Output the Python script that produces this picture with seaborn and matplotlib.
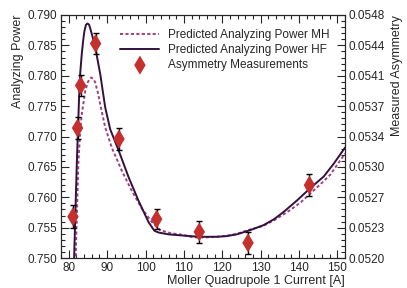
import numpy as np
import matplotlib
matplotlib.use("Agg")
import matplotlib.pyplot as plt
import seaborn as sns
from matplotlib.ticker import MultipleLocator, AutoMinorLocator

# predicted analyzing power, HF model
hf_x = [81.0, 81.4, 82.1, 82.7, 83.0, 83.4, 83.8, 84.1, 84.5, 84.9, 85.3, 85.6, 86.0, 86.9,
        88.2, 89.5, 90.8, 93.0, 95.6, 98.2, 100.8, 102.3, 103.4, 106.0, 109.8, 114.0, 118.6,
        121.0, 123.8, 127.3, 130.7, 133.5, 136.0, 139.5, 142.9, 146.4, 149.0, 152.0]
hf_y = [0.7440, 0.7500, 0.7655, 0.7765, 0.7805, 0.7836, 0.7860, 0.7874, 0.7884, 0.7886, 0.7884,
        0.7878, 0.7869, 0.7847, 0.7803, 0.7748, 0.7712, 0.7677, 0.7633, 0.7594, 0.7559, 0.7545,
        0.7542, 0.7539, 0.7537, 0.7535, 0.7535, 0.7536, 0.7539, 0.7546, 0.7554, 0.7564, 0.7576,
        0.7595, 0.7615, 0.7634, 0.7655, 0.7682]

# predicted analyzing power, MH model
mh_x = [81.3, 81.8, 82.5, 83.0, 83.4, 84.3, 85.0, 85.8, 86.4, 86.9, 87.6, 88.2, 89.5, 91.2,
        93.8, 96.4, 99.1, 101.7, 103.8, 106.5, 109.8, 112.5, 115.5, 118.6, 121.5, 123.8,
        127.3, 130.7, 134.0, 137.7, 140.5, 142.9, 145.5, 148.1, 152.0]
mh_y = [0.7440, 0.7500, 0.7655, 0.7710, 0.7737, 0.7775, 0.7790, 0.7797, 0.7795, 0.7789, 0.7772,
        0.7753, 0.7715, 0.7682, 0.7644, 0.7611, 0.7581, 0.7559, 0.7546, 0.7541, 0.7538, 0.7534,
        0.7534, 0.7535, 0.7537, 0.7540, 0.7547, 0.7553, 0.7564, 0.7579, 0.7592, 0.7606, 0.7621,
        0.7637, 0.7672]

# asymmetry measurements (in analyzing power units)
meas_x = [81.1, 82.3, 83.1, 87.0, 93.1, 102.9, 114.0, 126.7, 142.7]
meas_y = [0.7568, 0.7714, 0.7784, 0.7853, 0.7696, 0.7564, 0.7543, 0.7525, 0.7620]
meas_err = [0.0019, 0.0018, 0.0018, 0.0017, 0.0018, 0.0017, 0.0018, 0.0018, 0.0018]

right_labels = ["0.0520", "0.0523", "0.0527", "0.0530", "0.0534",
                "0.0537", "0.0541", "0.0544", "0.0548"]

sns.set_style("ticks")
plt.rcParams['font.family'] = ['Liberation Sans', 'DejaVu Sans']
plt.rcParams['font.size'] = 8.5

fig = plt.figure(figsize=(4.07, 2.88), dpi=100)
ax = fig.add_axes([0.150, 0.104, 0.698, 0.844])

sns.lineplot(x=mh_x, y=mh_y, ax=ax, sort=False, estimator=None, color="#a0407e",
             linewidth=1.4, linestyle=(0, (1.6, 1.2)), label="Predicted Analyzing Power MH")
sns.lineplot(x=hf_x, y=hf_y, ax=ax, sort=False, estimator=None, color="#33103f",
             linewidth=1.4, label="Predicted Analyzing Power HF")
ax.errorbar(meas_x, meas_y, yerr=meas_err, fmt="none", ecolor="black", elinewidth=1.0,
            capsize=2, capthick=1.0, zorder=3)
sns.scatterplot(x=meas_x, y=meas_y, ax=ax, marker="d", s=95, color="#c4302e",
                edgecolor="none", zorder=4, label="Asymmetry Measurements")

ax.set_xlim(78, 152)
ax.set_ylim(0.750, 0.790)
ax.xaxis.set_major_locator(MultipleLocator(10))
ax.xaxis.set_minor_locator(MultipleLocator(2))
ax.yaxis.set_major_locator(MultipleLocator(0.005))
ax.yaxis.set_minor_locator(MultipleLocator(0.001))
ax.yaxis.set_major_formatter(matplotlib.ticker.FormatStrFormatter("%.3f"))
ax.tick_params(which="both", direction="in", top=True, right=False, pad=2.5)
ax.tick_params(which="major", length=5.5, width=0.8)
ax.tick_params(which="minor", length=2.8, width=0.8)

ax.set_xlabel("Moller Quadrupole 1 Current [A]", loc="right", labelpad=1, fontsize=9)
ax.set_ylabel("Analyzing Power", loc="top", labelpad=3, fontsize=9)

ax2 = ax.twinx()
ax2.set_ylim(0.0520, 0.0548)
ax2.set_yticks(np.linspace(0.0520, 0.0548, 9))
ax2.set_yticklabels(right_labels)
ax2.yaxis.set_minor_locator(AutoMinorLocator(5))
ax2.tick_params(which="both", direction="in", pad=2.5)
ax2.tick_params(which="major", length=5.5, width=0.8)
ax2.tick_params(which="minor", length=2.8, width=0.8)
ax2.set_ylabel("Measured Asymmetry", loc="top", labelpad=4, fontsize=9)

for a in (ax, ax2):
    for s in a.spines.values():
        s.set_linewidth(0.8)

ax.legend(loc="upper left", bbox_to_anchor=(0.18, 0.975), frameon=False,
          handlelength=3.3, labelspacing=0.25, borderpad=0.2, handletextpad=0.7)

fig.savefig("out.png", dpi=100)
